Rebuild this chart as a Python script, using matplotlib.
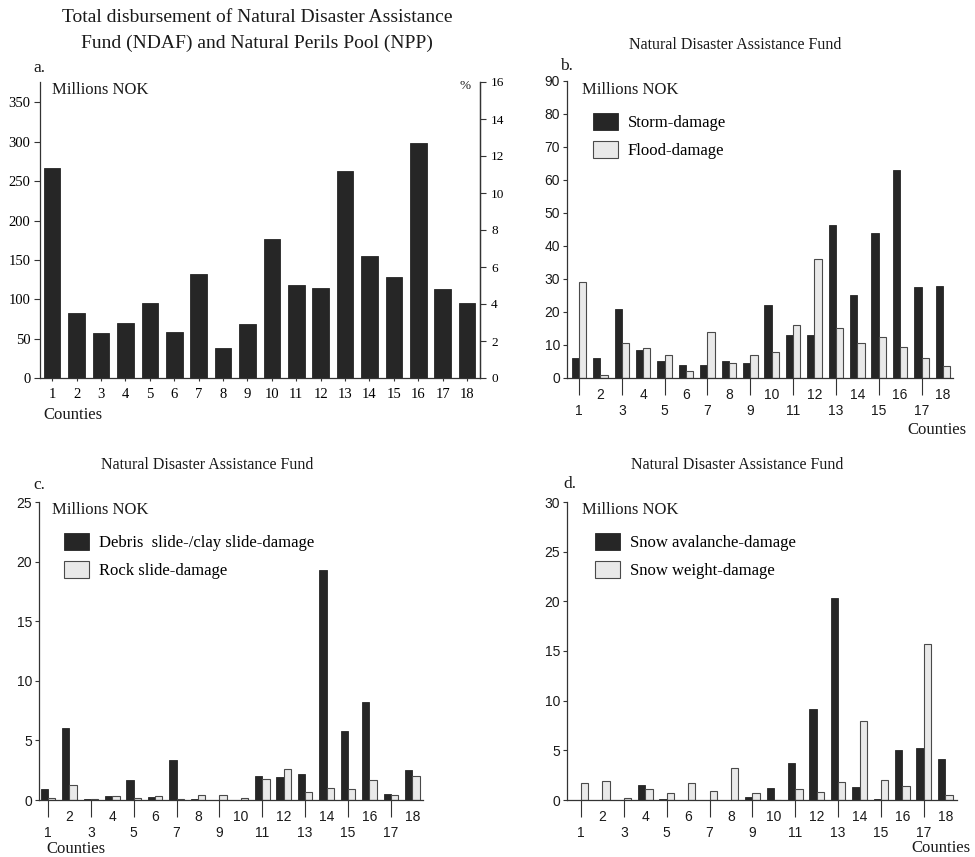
import numpy as np
import matplotlib.pyplot as plt

counties = np.arange(1, 19)

# a. total disbursement NDAF + NPP, millions NOK
total = [267, 82, 57, 70, 95, 58, 132, 38, 69, 176, 118, 114, 263, 155, 128, 298, 113, 95]

# b. storm / flood
storm = [6, 6, 21, 8.5, 5, 4, 4, 5, 4.5, 22, 13, 13, 46.5, 25, 44, 63, 27.5, 28]
flood = [29, 1, 10.5, 9, 7, 2, 14, 4.5, 7, 8, 16, 36, 15, 10.5, 12.5, 9.5, 6, 3.5]

# c. debris/clay slide and rock slide
debris = [0.9, 6.0, 0.05, 0.3, 1.7, 0.25, 3.35, 0.05, 0, 0, 2.0, 1.9, 2.2, 19.3, 5.8, 8.2, 0.5, 2.5]
rock = [0.2, 1.3, 0.05, 0.3, 0.2, 0.3, 0.1, 0.45, 0.45, 0.15, 1.8, 2.6, 0.7, 1.0, 0.9, 1.7, 0.45, 2.0]

# d. snow avalanche and snow weight
avalanche = [0, 0, 0, 1.5, 0.1, 0, 0.05, 0, 0.3, 1.2, 3.75, 9.2, 20.3, 1.3, 0.1, 5.0, 5.2, 4.1]
snow_weight = [1.75, 1.9, 0.2, 1.1, 0.75, 1.75, 0.95, 3.2, 0.7, 0.05, 1.15, 0.8, 1.8, 8.0, 2.0, 1.45, 15.7, 0.5]

SERIF = "Liberation Serif"
SANS = "Liberation Sans"
DARK = "#262626"
LIGHT = "#e9e9e9"
LINE = "#333333"

W, H = 975, 857


def fx(x):
    return x / W


def fy(y):
    return 1 - y / H


def rect(left, top, right, bottom):
    return [fx(left), fy(bottom), (right - left) / W, (bottom - top) / H]


def ftext(x, y, s, size=12, ha="left", family=SERIF, **kw):
    fig.text(fx(x), fy(y), s, fontsize=size, ha=ha, va="center", family=family,
             color="#1a1a1a", **kw)


def style_axis(ax):
    for side in ["top", "right"]:
        ax.spines[side].set_visible(False)
    for side in ["left", "bottom"]:
        ax.spines[side].set_color(LINE)
        ax.spines[side].set_linewidth(0.9)


def pair_panel(box, dark, light, names, ymax, step, xlim, leg_xy):
    ax = fig.add_axes(box)
    w = 0.34
    b1 = ax.bar(counties - w / 2, dark, w, color=DARK, edgecolor=DARK, linewidth=0.6)
    b2 = ax.bar(counties + w / 2, light, w, color=LIGHT, edgecolor="#4a4a4a", linewidth=0.8)
    ax.set_xlim(*xlim)
    ax.set_ylim(0, ymax)
    style_axis(ax)
    ax.set_yticks(np.arange(0, ymax + 1, step))
    ax.tick_params(axis="y", length=3, width=0.8, color=LINE, pad=2, labelsize=10)
    odd = counties[::2]
    even = counties[1::2]
    ax.set_xticks(odd)
    ax.set_xticklabels([str(c) for c in odd])
    ax.set_xticks(even, minor=True)
    ax.set_xticklabels([str(c) for c in even], minor=True)
    ax.tick_params(axis="x", which="major", length=12, width=0.8, color=LINE,
                   pad=7, labelsize=10)
    ax.tick_params(axis="x", which="minor", length=0, pad=7, labelsize=10)
    for lab in ax.get_xticklabels(which="both") + ax.get_yticklabels():
        lab.set_family(SANS)
        lab.set_color("#1a1a1a")
    ax.legend([b1, b2], names, loc="upper left", frameon=False,
              bbox_to_anchor=(fx(leg_xy[0]), fy(leg_xy[1])),
              bbox_transform=fig.transFigure, borderpad=0, borderaxespad=0,
              handlelength=1.5, handleheight=1.2, handletextpad=0.6,
              labelspacing=0.6, prop={"family": SERIF, "size": 12})
    return ax


fig = plt.figure(figsize=(W / 100, H / 100), dpi=100)

# ---- panel a
ax = fig.add_axes(rect(40, 82, 480, 378))
ax.bar(counties, total, 0.68, color=DARK, edgecolor=DARK, linewidth=0.6)
ax.set_xlim(0.5, 18.53)
ax.set_ylim(0, 376)
style_axis(ax)
ax.spines["right"].set_visible(True)
ax.spines["right"].set_color(LINE)
ax.spines["right"].set_linewidth(0.9)
ax.set_yticks(np.arange(0, 351, 50))
ax.set_xticks(counties)
ax.tick_params(axis="y", length=4, width=0.8, color=LINE, pad=3, labelsize=10.5)
ax.tick_params(axis="x", length=2.5, width=0.8, color=LINE, pad=5, labelsize=10.5)
for lab in ax.get_xticklabels() + ax.get_yticklabels():
    lab.set_family(SERIF)
ax2 = ax.twinx()
ax2.set_ylim(0, 16)
ax2.set_yticks(np.arange(0, 17, 2))
for side in ["top", "left", "bottom"]:
    ax2.spines[side].set_visible(False)
ax2.spines["right"].set_color(LINE)
ax2.spines["right"].set_linewidth(0.9)
ax2.tick_params(axis="y", length=4, width=0.8, color=LINE, pad=4, labelsize=9.5)
for lab in ax2.get_yticklabels():
    lab.set_family(SERIF)

ftext(257, 18, "Total disbursement of Natural Disaster Assistance", size=14, ha="center")
ftext(257, 43, "Fund (NDAF) and Natural Perils Pool (NPP)", size=14, ha="center")
ftext(33, 68, "a.", size=12.5)
ftext(52, 90, "Millions NOK", size=12)
ftext(465, 86, "%", size=9.5, ha="center")
ftext(43, 415, "Counties", size=12)

# ---- panel b
pair_panel(rect(567, 81, 953, 378), storm, flood, ["Storm-damage", "Flood-damage"],
           90, 10, (0.44, 18.47), (593, 113))
ftext(735, 45, "Natural Disaster Assistance Fund", size=11.5, ha="center")
ftext(560, 66, "b.", size=12.5)
ftext(582, 90, "Millions NOK", size=12)
ftext(967, 430, "Counties", size=12, ha="right")

# ---- panel c
pair_panel(rect(39, 502, 423, 800), debris, rock,
           ["Debris  slide-/clay slide-damage", "Rock slide-damage"],
           25, 5, (0.58, 18.5), (64, 533))
ftext(207, 465, "Natural Disaster Assistance Fund", size=11.5, ha="center")
ftext(33, 485, "c.", size=12.5)
ftext(52, 510, "Millions NOK", size=12)
ftext(46, 849, "Counties", size=12)

# ---- panel d
pair_panel(rect(567, 502, 957, 800), avalanche, snow_weight,
           ["Snow avalanche-damage", "Snow weight-damage"],
           30, 5, (0.35, 18.55), (595, 533))
ftext(737, 465, "Natural Disaster Assistance Fund", size=11.5, ha="center")
ftext(563, 484, "d.", size=12.5)
ftext(582, 510, "Millions NOK", size=12)
ftext(970, 848, "Counties", size=12, ha="right")

fig.savefig("out.png", dpi=100, facecolor="white")
